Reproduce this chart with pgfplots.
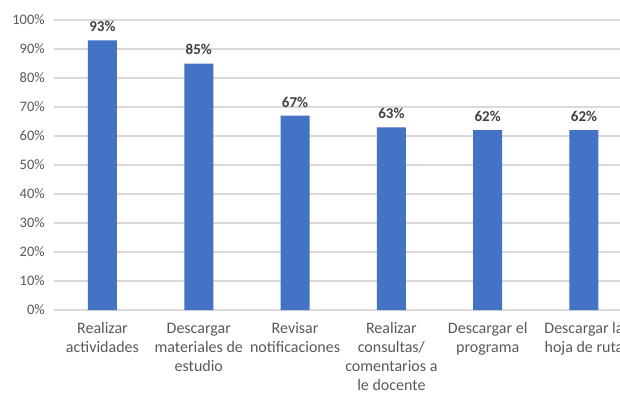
\documentclass[border=0pt]{standalone}
\usepackage{pgfplots}
\pgfplotsset{compat=1.18}
\usepackage{fontspec}
\setmainfont{Carlito}
\definecolor{barblue}{HTML}{4472C4}
\definecolor{gridgray}{HTML}{D9D9D9}
\definecolor{txtgray}{HTML}{595959}
\definecolor{lblgray}{HTML}{404040}
\begin{document}
\begin{tikzpicture}
\begin{axis}[
  scale only axis,
  width=565.7pt, height=290pt,
  xmin=-0.5, xmax=5.374,
  ymin=0, ymax=100,
  ybar, bar width=29pt,
  axis line style={draw=none},
  ytick={0,10,...,100},
  yticklabel={\pgfmathprintnumber{\tick}\%},
  /pgf/number format/assume math mode=true,
  ymajorgrids, grid style={gridgray, line width=1.3pt},
  tick style={draw=none},
  xtick={0,...,5},
  xticklabels={{Realizar\\actividades},{Descargar\\materiales de\\estudio},{Revisar\\notificaciones},{Realizar\\consultas/\\comentarios a\\le docente},{Descargar el\\programa},{Descargar la\\hoja de ruta}},
  xticklabel style={align=center, font=\fontsize{16}{19}\selectfont, text=txtgray, yshift=-5pt},
  yticklabel style={font=\fontsize{14.5}{16}\selectfont, text=txtgray, xshift=-6pt},
  clip=false,
]
\addplot[fill=barblue, draw=none, point meta=y,
  nodes near coords={\pgfmathprintnumber[fixed,precision=0]{\pgfplotspointmeta}\%},
  nodes near coords style={font=\bfseries\fontsize{15}{17}\selectfont, text=lblgray, anchor=south, yshift=5pt}]
  coordinates {(0,93) (1,85) (2,67) (3,63) (4,62) (5,62)};
\end{axis}
\pgfresetboundingbox
\path[use as bounding box] (-54.3pt,-84pt) rectangle (565.7pt,310pt);
\end{tikzpicture}
\end{document}
